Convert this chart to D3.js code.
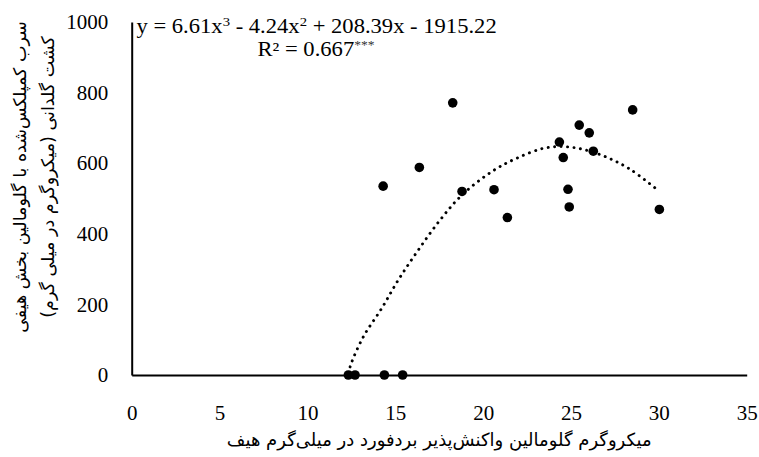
<!DOCTYPE html>
<html>
<head>
<meta charset="utf-8">
<script src="https://cdn.jsdelivr.net/npm/d3@7"></script>
<style>
    body { margin: 0; background: #fff; }
    svg { display: block; }
    .latin { font-family: 'Liberation Serif', 'Times New Roman', Times, serif; }
    .persian { font-family: 'DejaVu Sans', sans-serif; }
</style>
</head>
<body>
<div id="chart"></div>
<script>
// measured points (glomalin vs Pb)
const xValues = [12.33, 12.71, 14.38, 15.42, 18.27, 28.51, 25.47, 26.04, 24.34, 26.27,
                 24.56, 16.37, 14.31, 18.80, 20.62, 24.83, 24.90, 30.03, 21.38];
const yValues = [0, 0, 0, 0, 771, 751, 708, 686, 660, 634,
                 616, 588, 535, 520, 525, 526, 476, 469, 446];

// dotted trend line
const trendX = [12.35, 12.46, 13.18, 14.23, 15.17, 16.31, 17.55, 18.80, 20.58, 21.91,
                23.42, 24.56, 25.70, 27.03, 28.36, 29.88];
const trendY = [5, 28, 108, 189, 269, 354, 439, 510, 579, 614,
                642, 647, 639, 617, 583, 526];

const xTicks = [0, 5, 10, 15, 20, 25, 30, 35];
const yTicks = [0, 200, 400, 600, 800, 1000];

const xTitle = 'میکروگرم گلومالین واکنش‌پذیر بردفورد در میلی‌گرم هیف';
const yTitleLines = ['سرب کمپلکس‌شده با گلومالین بخش هیفی', 'کشت گلدانی (میکروگرم در میلی گرم)'];

const margin = { top: 22, right: 12.3, bottom: 82, left: 131.7 };
const width = 759 - margin.left - margin.right;
const height = 457 - margin.top - margin.bottom;

const svg = d3.select('#chart').append('svg')
    .attr('width', 759)
    .attr('height', 457);

const chart = svg.append('g')
    .attr('transform', `translate(${margin.left}, ${margin.top})`);

const x = d3.scaleLinear().domain([0, 35]).range([0, width]);
const y = d3.scaleLinear().domain([0, 1000]).range([height, 0]);

const xAxis = chart.append('g')
    .attr('transform', `translate(0, ${height})`)
    .call(d3.axisBottom(x).tickValues(xTicks).tickFormat(d3.format('d')).tickSize(0).tickPadding(30));

const yAxis = chart.append('g')
    .call(d3.axisLeft(y).tickValues(yTicks).tickFormat(d3.format('d')).tickSize(0).tickPadding(23.4));

[xAxis, yAxis].forEach(a => {
    a.attr('font-family', null).attr('font-size', null).attr('class', 'latin');
    a.select('.domain').attr('stroke', '#000').attr('stroke-width', 2);
    a.selectAll('text')
        .attr('fill', '#000')
        .style('font-size', '21px');
});

// trend line
const trend = trendX.map((d, i) => [d, trendY[i]]);
chart.append('path')
    .datum(trend)
    .attr('fill', 'none')
    .attr('stroke', '#000')
    .attr('stroke-width', 2.9)
    .attr('stroke-linecap', 'round')
    .attr('stroke-dasharray', '0.1 6.4')
    .attr('d', d3.line().x(d => x(d[0])).y(d => y(d[1])).curve(d3.curveCatmullRom));

chart.append('g').selectAll('circle')
    .data(xValues.map((d, i) => [d, yValues[i]]))
    .join('circle')
    .attr('cx', d => x(d[0]))
    .attr('cy', d => y(d[1]))
    .attr('r', 4.8)
    .attr('fill', '#000');

// equation (the source text is a bit wider than plain Times)
const eq = svg.append('g')
    .attr('transform', 'translate(136.5, 32.5) scale(1.13, 1)')
    .append('text')
    .attr('class', 'latin')
    .style('font-size', '20px')
    .attr('fill', '#000');
eq.append('tspan').text('y = 6.61x');
eq.append('tspan').text('3').attr('dy', -7).style('font-size', '13px');
eq.append('tspan').text(' - 4.24x').attr('dy', 7);
eq.append('tspan').text('2').attr('dy', -7).style('font-size', '13px');
eq.append('tspan').text(' + 208.39x - 1915.22').attr('dy', 7);

const r2 = svg.append('g')
    .attr('transform', 'translate(316, 56) scale(1.13, 1)')
    .append('text')
    .attr('class', 'latin')
    .attr('text-anchor', 'middle')
    .style('font-size', '20px')
    .attr('fill', '#000');
r2.append('tspan').text('R² = 0.667');
r2.append('tspan').text('***').attr('dy', -7).style('font-size', '12px').attr('fill', '#333');

// axis titles
svg.append('text')
    .attr('class', 'persian')
    .attr('x', margin.left + width / 2)
    .attr('y', 446)
    .attr('text-anchor', 'middle')
    .attr('direction', 'rtl')
    .style('font-size', '18px')
    .text(xTitle);

const yTitle = svg.append('text')
    .attr('class', 'persian')
    .attr('transform', 'translate(26, 177) rotate(-90)')
    .attr('text-anchor', 'middle')
    .attr('direction', 'rtl')
    .style('font-size', '17.5px');
yTitleLines.forEach((t, i) => {
    yTitle.append('tspan')
        .attr('x', 0)
        .attr('y', i * 28)
        .text(t);
});
</script>
</body>
</html>
